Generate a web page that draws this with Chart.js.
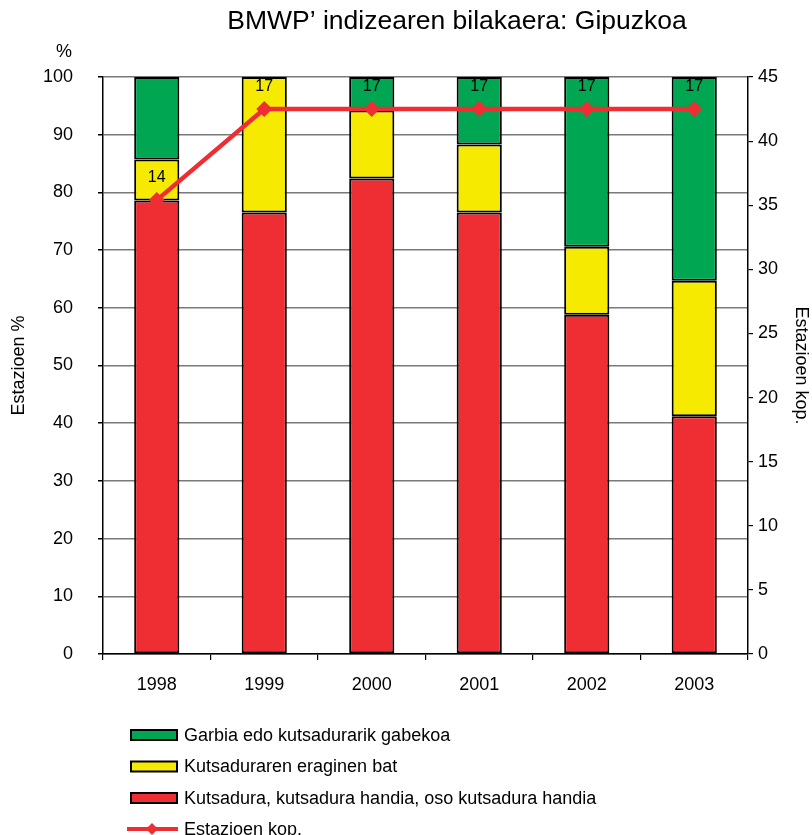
<!DOCTYPE html>
<html>
<head>
<meta charset="utf-8">
<script src="https://cdn.jsdelivr.net/npm/chart.js@4.4.1/dist/chart.umd.min.js"></script>
<style>
  html, body { margin: 0; padding: 0; background: #fff; }
  #c { display: block; }
</style>
</head>
<body>
<canvas id="c" width="812" height="835"></canvas>
<script>
// ---- Data ----
const years = ['1998', '1999', '2000', '2001', '2002', '2003'];
// share of stations (%) by class
const redValues    = [78.6, 76.5, 82.4, 76.5, 58.8, 41.2]; // Kutsadura, kutsadura handia, oso kutsadura handia
const yellowValues = [7.1, 23.5, 11.8, 11.8, 11.8, 23.5];  // Kutsaduraren eraginen bat
const greenValues  = [14.3, 0.0, 5.8, 11.7, 29.4, 35.3];   // Garbia edo kutsadurarik gabekoa
// line: position on the right axis, and its printed labels
const linePositions = [35.4, 42.5, 42.5, 42.5, 42.5, 42.5];
const stationCounts = [14, 17, 17, 17, 17, 17];
const leftTicks  = { min: 0, max: 100, step: 10 };
const rightTicks = { min: 0, max: 45, step: 5 };

const titleText = 'BMWP\u2019 indizearen bilakaera: Gipuzkoa';
const seriesNames = {
  green: 'Garbia edo kutsadurarik gabekoa',
  yellow: 'Kutsaduraren eraginen bat',
  red: 'Kutsadura, kutsadura handia, oso kutsadura handia',
  line: 'Estazioen kop.'
};

const RED = '#EE2E33', YELLOW = '#F5EA00', GREEN = '#00A651';
const FONT = "'Liberation Sans', Arial, sans-serif";

const decorPlugin = {
  id: 'decor',
  afterDatasetsDraw(chart) {
    const ctx = chart.ctx;
    const meta = chart.getDatasetMeta(3);
    ctx.save();
    ctx.fillStyle = '#000';
    ctx.font = '16px ' + FONT;
    ctx.textAlign = 'center';
    ctx.textBaseline = 'middle';
    meta.data.forEach((pt, i) => {
      ctx.fillText(String(stationCounts[i]), pt.x, pt.y - 22);
    });
    ctx.restore();
  },
  afterDraw(chart) {
    const ctx = chart.ctx;
    ctx.save();
    ctx.fillStyle = '#000';
    ctx.font = '26.5px ' + FONT;
    ctx.textAlign = 'center';
    ctx.textBaseline = 'middle';
    ctx.fillText(titleText, 457, 22);
    ctx.font = '18px ' + FONT;
    ctx.fillText('%', 64, 52);

    const rows = [
      { kind: 'box', color: GREEN, text: seriesNames.green, y: 735 },
      { kind: 'box', color: YELLOW, text: seriesNames.yellow, y: 766.5 },
      { kind: 'box', color: RED, text: seriesNames.red, y: 798 },
      { kind: 'line', color: RED, text: seriesNames.line, y: 829 }
    ];
    ctx.textAlign = 'left';
    ctx.textBaseline = 'middle';
    ctx.font = '18px ' + FONT;
    rows.forEach(r => {
      if (r.kind === 'box') {
        ctx.fillStyle = r.color;
        ctx.fillRect(131, r.y - 5, 46, 10);
        ctx.strokeStyle = '#000';
        ctx.lineWidth = 2;
        ctx.strokeRect(131, r.y - 5, 46, 10);
      } else {
        ctx.strokeStyle = r.color;
        ctx.lineWidth = 4;
        ctx.beginPath();
        ctx.moveTo(127, r.y);
        ctx.lineTo(178, r.y);
        ctx.stroke();
        ctx.fillStyle = r.color;
        ctx.beginPath();
        ctx.moveTo(152 - 6, r.y);
        ctx.lineTo(152, r.y - 6);
        ctx.lineTo(152 + 6, r.y);
        ctx.lineTo(152, r.y + 6);
        ctx.closePath();
        ctx.fill();
      }
      ctx.fillStyle = '#000';
      ctx.fillText(r.text, 184, r.y + 1);
    });
    ctx.restore();
  }
};

const barCommon = {
  type: 'bar',
  yAxisID: 'y',
  borderColor: '#000',
  borderWidth: 2,
  borderSkipped: false,
  categoryPercentage: 1,
  barPercentage: 0.42,
  stack: 'pct',
  order: 2
};

new Chart(document.getElementById('c'), {
  data: {
    labels: years,
    datasets: [
      Object.assign({}, barCommon, { label: seriesNames.red, data: redValues, backgroundColor: RED }),
      Object.assign({}, barCommon, { label: seriesNames.yellow, data: yellowValues, backgroundColor: YELLOW }),
      Object.assign({}, barCommon, { label: seriesNames.green, data: greenValues, backgroundColor: GREEN }),
      {
        type: 'line',
        label: seriesNames.line,
        data: linePositions,
        yAxisID: 'y1',
        borderColor: RED,
        backgroundColor: RED,
        borderWidth: 4.5,
        pointStyle: 'rectRot',
        pointRadius: 8,
        pointBorderWidth: 0,
        pointBackgroundColor: RED,
        tension: 0,
        stack: 'line',
        order: 0
      }
    ]
  },
  options: {
    responsive: false,
    animation: false,
    devicePixelRatio: 1,
    layout: { padding: { top: 77, left: 0, right: 0, bottom: 0 } },
    plugins: {
      legend: { display: false },
      tooltip: { enabled: false },
      title: { display: false }
    },
    scales: {
      x: {
        stacked: true,
        offset: true,
        grid: {
          display: true,
          drawOnChartArea: false,
          offset: true,
          tickLength: 6,
          tickColor: '#000',
          lineWidth: 1.2
        },
        border: { display: true, color: '#000', width: 1.5 },
        ticks: { color: '#000', font: { family: FONT, size: 18 }, padding: 14, maxRotation: 0 },
        afterFit(s) { s.height = 181; }
      },
      y: {
        position: 'left',
        stacked: true,
        min: leftTicks.min,
        max: leftTicks.max,
        ticks: { stepSize: leftTicks.step, color: '#000', font: { family: FONT, size: 18 }, padding: 25 },
        grid: { color: '#7a7a7a', lineWidth: 1.5, tickLength: 5, tickColor: '#000' },
        border: { display: true, color: '#000', width: 1.5 },
        title: { display: true, text: 'Estazioen %', color: '#000', font: { family: FONT, size: 18 }, padding: { top: 8, bottom: 0 } },
        afterFit(s) { s.width = 103; }
      },
      y1: {
        position: 'right',
        stacked: false,
        min: rightTicks.min,
        max: rightTicks.max,
        ticks: { stepSize: rightTicks.step, color: '#000', font: { family: FONT, size: 18 }, padding: 5 },
        grid: { drawOnChartArea: false, tickLength: 5, tickColor: '#000', lineWidth: 1.2 },
        border: { display: true, color: '#000', width: 1.5 },
        title: { display: true, text: 'Estazioen kop.', color: '#000', font: { family: FONT, size: 18 }, padding: { top: 0, bottom: 0 } },
        afterFit(s) { s.width = 64; }
      }
    }
  },
  plugins: [decorPlugin]
});
</script>
</body>
</html>
